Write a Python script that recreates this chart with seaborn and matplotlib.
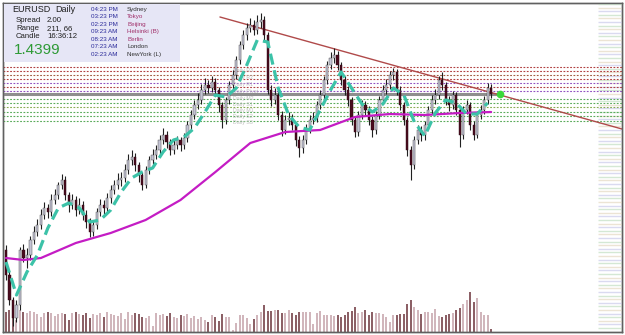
import numpy as np
import matplotlib
matplotlib.use("Agg")
import matplotlib.pyplot as plt
import seaborn as sns
from matplotlib.patches import Rectangle

# ---------------- data (EURUSD daily) ----------------
opens = [1.284, 1.259, 1.234, 1.216, 1.229, 1.284, 1.276, 1.279, 1.294, 1.302,
         1.309, 1.319, 1.326, 1.322, 1.334, 1.339, 1.349, 1.354, 1.339, 1.329,
         1.334, 1.324, 1.329, 1.319, 1.312, 1.302, 1.309, 1.322, 1.329, 1.326,
         1.336, 1.344, 1.349, 1.354, 1.356, 1.364, 1.374, 1.377, 1.369, 1.359,
         1.349, 1.364, 1.374, 1.379, 1.384, 1.394, 1.399, 1.392, 1.384, 1.389,
         1.394, 1.389, 1.396, 1.409, 1.419, 1.429, 1.434, 1.444, 1.449, 1.446,
         1.452, 1.444, 1.429, 1.414, 1.434, 1.449, 1.459, 1.474, 1.489, 1.499,
         1.506, 1.509, 1.504, 1.512, 1.514, 1.499, 1.444, 1.434, 1.439, 1.419,
         1.404, 1.414, 1.416, 1.409, 1.394, 1.386, 1.394, 1.406, 1.414, 1.416,
         1.429, 1.439, 1.454, 1.469, 1.476, 1.479, 1.469, 1.454, 1.444, 1.434,
         1.414, 1.402, 1.419, 1.429, 1.424, 1.414, 1.404, 1.419, 1.434, 1.444,
         1.449, 1.459, 1.462, 1.444, 1.429, 1.414, 1.384, 1.369, 1.394, 1.404,
         1.399, 1.409, 1.424, 1.434, 1.439, 1.454, 1.449, 1.434, 1.429, 1.439,
         1.424, 1.399, 1.424, 1.429, 1.409, 1.399, 1.419, 1.424, 1.434, 1.446]
highs = [1.289, 1.263, 1.237, 1.234, 1.287, 1.290, 1.286, 1.298, 1.308, 1.315,
         1.325, 1.332, 1.330, 1.340, 1.345, 1.352, 1.360, 1.358, 1.342, 1.340,
         1.338, 1.336, 1.333, 1.324, 1.316, 1.313, 1.326, 1.335, 1.334, 1.341,
         1.349, 1.354, 1.361, 1.362, 1.370, 1.380, 1.384, 1.381, 1.372, 1.362,
         1.368, 1.378, 1.385, 1.389, 1.399, 1.406, 1.403, 1.395, 1.394, 1.398,
         1.397, 1.401, 1.413, 1.424, 1.434, 1.441, 1.450, 1.456, 1.454, 1.458,
         1.456, 1.447, 1.432, 1.437, 1.453, 1.464, 1.478, 1.493, 1.504, 1.511,
         1.516, 1.514, 1.519, 1.521, 1.518, 1.502, 1.449, 1.446, 1.443, 1.423,
         1.419, 1.422, 1.420, 1.412, 1.398, 1.399, 1.410, 1.419, 1.422, 1.433,
         1.444, 1.458, 1.473, 1.482, 1.486, 1.483, 1.472, 1.458, 1.448, 1.437,
         1.418, 1.423, 1.434, 1.433, 1.428, 1.418, 1.423, 1.438, 1.449, 1.455,
         1.463, 1.466, 1.465, 1.448, 1.432, 1.417, 1.388, 1.398, 1.409, 1.408,
         1.413, 1.428, 1.439, 1.445, 1.458, 1.462, 1.452, 1.438, 1.443, 1.442,
         1.427, 1.428, 1.434, 1.432, 1.413, 1.423, 1.429, 1.438, 1.451, 1.450]
lows = [1.254, 1.229, 1.208, 1.212, 1.224, 1.272, 1.266, 1.274, 1.290, 1.298,
        1.305, 1.315, 1.316, 1.318, 1.330, 1.335, 1.345, 1.334, 1.322, 1.325,
        1.318, 1.320, 1.314, 1.306, 1.297, 1.298, 1.305, 1.318, 1.320, 1.322,
        1.331, 1.340, 1.345, 1.348, 1.352, 1.360, 1.369, 1.363, 1.352, 1.344,
        1.346, 1.360, 1.370, 1.375, 1.380, 1.390, 1.386, 1.379, 1.380, 1.385,
        1.383, 1.385, 1.392, 1.405, 1.415, 1.425, 1.430, 1.440, 1.441, 1.442,
        1.439, 1.422, 1.406, 1.410, 1.430, 1.445, 1.455, 1.470, 1.485, 1.494,
        1.502, 1.499, 1.500, 1.506, 1.494, 1.440, 1.428, 1.430, 1.414, 1.398,
        1.400, 1.409, 1.404, 1.388, 1.377, 1.381, 1.390, 1.401, 1.410, 1.412,
        1.425, 1.435, 1.450, 1.465, 1.471, 1.464, 1.449, 1.439, 1.428, 1.409,
        1.397, 1.398, 1.415, 1.419, 1.409, 1.397, 1.400, 1.415, 1.430, 1.440,
        1.445, 1.454, 1.439, 1.424, 1.409, 1.378, 1.354, 1.365, 1.390, 1.393,
        1.394, 1.405, 1.420, 1.430, 1.435, 1.444, 1.429, 1.423, 1.425, 1.419,
        1.387, 1.395, 1.420, 1.404, 1.394, 1.396, 1.415, 1.420, 1.430, 1.436]
closes = [1.259, 1.234, 1.216, 1.229, 1.284, 1.276, 1.279, 1.294, 1.302, 1.309,
          1.319, 1.326, 1.322, 1.334, 1.339, 1.349, 1.354, 1.339, 1.329, 1.334,
          1.324, 1.329, 1.319, 1.312, 1.302, 1.309, 1.322, 1.329, 1.326, 1.336,
          1.344, 1.349, 1.354, 1.356, 1.364, 1.374, 1.377, 1.369, 1.359, 1.349,
          1.364, 1.374, 1.379, 1.384, 1.394, 1.399, 1.392, 1.384, 1.389, 1.394,
          1.389, 1.396, 1.409, 1.419, 1.429, 1.434, 1.444, 1.449, 1.446, 1.452,
          1.444, 1.429, 1.414, 1.434, 1.449, 1.459, 1.474, 1.489, 1.499, 1.506,
          1.509, 1.504, 1.512, 1.514, 1.499, 1.444, 1.434, 1.439, 1.419, 1.404,
          1.414, 1.416, 1.409, 1.394, 1.386, 1.394, 1.406, 1.414, 1.416, 1.429,
          1.439, 1.454, 1.469, 1.476, 1.479, 1.469, 1.454, 1.444, 1.434, 1.414,
          1.402, 1.419, 1.429, 1.424, 1.414, 1.404, 1.419, 1.434, 1.444, 1.449,
          1.459, 1.462, 1.444, 1.429, 1.414, 1.384, 1.369, 1.394, 1.404, 1.399,
          1.409, 1.424, 1.434, 1.439, 1.454, 1.449, 1.434, 1.429, 1.439, 1.424,
          1.399, 1.424, 1.429, 1.409, 1.399, 1.419, 1.424, 1.434, 1.446, 1.4399]
volumes = [20, 22, 18, 12, 22, 20, 19, 21, 20, 18,
           15, 19, 20, 19, 16, 18, 19, 18, 12, 19,
           20, 18, 17, 19, 14, 18, 17, 19, 15, 20,
           18, 17, 16, 19, 13, 20, 17, 19, 18, 15,
           14, 16, 6, 19, 17, 18, 16, 19, 15, 14,
           17, 16, 18, 14, 16, 13, 15, 12, 10, 17,
           15, 11, 18, 15, 15, 2, 9, 17, 17, 14,
           8, 13, 17, 20, 27, 21, 21, 22, 22, 19,
           19, 22, 19, 17, 20, 20, 20, 20, 8, 19,
           21, 17, 17, 17, 16, 17, 15, 17, 20, 21,
           25, 19, 20, 22, 17, 20, 19, 19, 18, 15,
           10, 17, 17, 18, 18, 28, 32, 25, 22, 18,
           20, 20, 19, 23, 16, 15, 17, 18, 19, 22,
           24, 28, 32, 40, 30, 34, 20, 17, 17, 3]

# moving average (magenta), sampled at bar indices
ma_bars = [0, 5, 10, 20, 30, 40, 50, 60, 70, 80, 90, 100, 110, 120, 130, 139]
ma_vals = [1.276, 1.274, 1.276, 1.291, 1.301, 1.314, 1.334, 1.362, 1.391,
           1.402, 1.404, 1.417, 1.420, 1.419, 1.421, 1.422]

# teal trend indicator, every 3rd bar
teal_bars = list(range(0, 140, 3))
teal_vals = [1.272, 1.239, 1.262, 1.279, 1.306, 1.326, 1.331, 1.326, 1.312, 1.314,
             1.324, 1.342, 1.356, 1.362, 1.366, 1.382, 1.394, 1.397, 1.406, 1.422,
             1.439, 1.437, 1.446, 1.469, 1.494, 1.492, 1.446, 1.419, 1.407, 1.404,
             1.424, 1.444, 1.462, 1.446, 1.430, 1.422, 1.430, 1.446, 1.439, 1.412,
             1.398, 1.421, 1.434, 1.431, 1.420, 1.420, 1.431]

# pivot levels
level_prices = [1.467, 1.463, 1.459, 1.455, 1.451, 1.447, 1.443,
                1.435, 1.431, 1.427, 1.422, 1.418, 1.413]
level_colors = ['#b04040', '#b04040', '#a05a40', '#b04040', '#9050c0', '#b04040', '#9050c0',
                '#5aaa5a', '#5aaa5a', '#88aa50', '#5aaa5a', '#5aaa5a', '#5aaa5a']
level_labels = ['Daily R3', 'Daily R2', 'Daily R1', 'Daily Pivot', 'Daily M2',
                'Daily S1', 'Daily M1', 'Daily S2', 'Daily S3']
label_prices = [1.464, 1.457, 1.450, 1.443, 1.436, 1.430, 1.424, 1.418, 1.412]

bid = 1.4399
trend_x = [61.3, 176.5]
trend_y = [1.517, 1.405]

times = ['04:23 PM', '03:23 PM', '02:23 PM', '09:23 AM', '08:23 AM', '07:23 AM', '02:23 AM']
cities = ['Sydney', 'Tokyo', 'Beijing', 'Helsinki (B)', 'Berlin', 'London', 'NewYork (L)']
city_colors = ['#303030', '#a0306a', '#a0306a', '#a0306a', '#a0306a', '#303030', '#303030']

# ---------------- drawing ----------------
sns.set_style("white")
plt.rcParams['font.family'] = ['Liberation Sans', 'DejaVu Sans']

W, H = 625, 335
fig = plt.figure(figsize=(W / 100, H / 100), dpi=100)
fig.patch.set_facecolor('white')
ax = fig.add_axes([3 / W, 3 / H, 619 / W, 329 / H])
axv = ax.twinx()
ax.set_zorder(2)
ax.patch.set_visible(False)
axv.set_zorder(1)

o = np.array(opens); h = np.array(highs); l = np.array(lows); c = np.array(closes)
x = np.arange(len(c))
up = c >= o

# volume
vcol = np.where(up, '#c4a0a8', '#6a3038')
axv.vlines(x, 0, volumes, colors=vcol, lw=1.1)
axv.set_ylim(0, 329)
axv.set_yticks([])

# right-side stripes
stripe_levels = np.arange(1.206, 1.530, 0.0036)
stripe_cols = ['#d4e8d4', '#dadaf0', '#ece4d4']
for k, lv in enumerate(stripe_levels):
    ax.hlines(lv, 169.5, 177, colors=stripe_cols[k % 3], lw=1.0, zorder=0.5)

# pivot levels
for lv, col in zip(level_prices, level_colors):
    ax.axhline(lv, color=col, lw=0.8, ls=(0, (1.6, 1.4)), zorder=1)
for lp, lt in zip(label_prices, level_labels):
    ax.text(65, lp, lt, fontsize=3.8, color='#c0c0c0', va='center', ha='left', zorder=1.2)

# bid line
ax.hlines(bid, -1, 141.5, colors='#8e8e8e', lw=2.2, zorder=1.5)

# trend line
ax.plot(trend_x, trend_y, color='#b04a4a', lw=1.0, zorder=1.6)

# moving average
sns.lineplot(x=ma_bars, y=ma_vals, ax=ax, color='#c41cc4', lw=1.6, zorder=3)

# teal indicator
sns.lineplot(x=teal_bars, y=teal_vals, ax=ax, color='#3cc2a8', lw=2.3, zorder=4)
ax.lines[-1].set_dashes([3.5, 1.8])

# candles
ax.vlines(x, l, h, colors='#202020', lw=0.8, zorder=2)
ax.bar(x[up], (c - o)[up], bottom=o[up], width=0.62, color='#c4c4d4',
       edgecolor='#404040', lw=0.3, zorder=2.5)
ax.bar(x[~up], (o - c)[~up], bottom=c[~up], width=0.62, color='#4a0c1e',
       edgecolor='#2a0610', lw=0.3, zorder=2.5)

ax.plot([141.5], [bid], 'o', color='#3ad83a', ms=4.5, zorder=5)

ax.set_xlim((3 - 6) / 3.49, (622 - 6) / 3.49)
ax.set_ylim(1.534 - 0.332, 1.534 - 0.003)
ax.set_xticks([]); ax.set_yticks([])
ax.set_xlabel(''); ax.set_ylabel('')
for sp in list(ax.spines.values()) + list(axv.spines.values()):
    sp.set_color('#606060')
    sp.set_linewidth(1.0)

# info panel
def fx(px):
    return px / W

def fy(py):
    return 1 - py / H

fig.add_artist(Rectangle((fx(4), fy(62)), 176 / W, 58 / H, transform=fig.transFigure,
                         facecolor='#e6e6f6', edgecolor='none', zorder=5))
fig.text(fx(12), fy(10), 'EURUSD', fontsize=6.5, color='#202020', va='center', zorder=6)
fig.text(fx(55), fy(10), 'Daily', fontsize=6.5, color='#202020', va='center', zorder=6)
for lab, val, py in [('Spread', '2.00', 20), ('Range', '211, 66', 29), ('Candle', '16:36:12', 37)]:
    fig.text(fx(16), fy(py), lab, fontsize=5.6, color='#202020', va='center', zorder=6)
    fig.text(fx(47), fy(py), val, fontsize=5.6, color='#202020', va='center', zorder=6)
fig.text(fx(14), fy(50), '1.4399', fontsize=11, color='#2e9a36', va='center', zorder=6)
for k, (t, cty, cc) in enumerate(zip(times, cities, city_colors)):
    py = 9.3 + k * 7.5
    fig.text(fx(91), fy(py), t, fontsize=4.5, color='#2a2a9a', va='center', zorder=6)
    fig.text(fx(127), fy(py), cty, fontsize=4.5, color=cc, va='center', zorder=6)

fig.savefig('out.png', dpi=100, facecolor='white')
